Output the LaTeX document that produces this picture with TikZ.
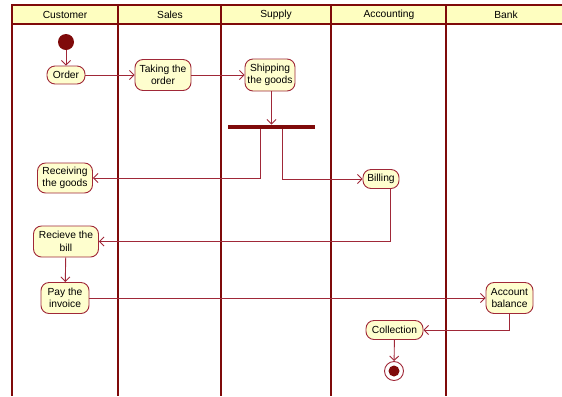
\documentclass[tikz,border=0pt]{standalone}
\usepackage{fontspec}
\setmainfont{Liberation Sans}
\usetikzlibrary{arrows.meta,positioning}
\definecolor{lane}{HTML}{7F0A0A}
\definecolor{edge}{HTML}{A02838}
\definecolor{boxfill}{HTML}{FEFECE}
\definecolor{headfill}{HTML}{FEFEC0}
\tikzset{
  act/.style={draw=edge, fill=boxfill, line width=0.9bp, rounded corners=8bp,
    align=center, inner sep=1bp, font=\fontsize{10.3}{12.5}\selectfont},
  flow/.style={draw=edge, line width=0.9bp,
    -{Straight Barb[length=4.5bp,width=9bp,line width=0.9bp]}},
  lanesep/.style={draw=lane, line width=2.2bp},
  lanehead/.style={font=\fontsize{10.3}{12.5}\selectfont},
}
\begin{document}
\begin{tikzpicture}[x=1bp,y=-1bp]
\useasboundingbox (0,0) rectangle (562,396);
% swimlane header band
\fill[headfill] (12,5) rectangle (562,24);
\draw[lane, line width=1.6bp] (12,5) -- (562,5);
\draw[lane, line width=1.8bp] (12,24) -- (562,24);
\foreach \x in {12,118,221,331,446}
  \draw[lanesep] (\x,4.2) -- (\x,396);
\node[lanehead] (hcust) at (65,15) {Customer};
\node[lanehead] (hsales) at (170,15) {Sales};
\node[lanehead] (hsup) at (276,15) {Supply};
\node[lanehead] (hacc) at (389,15) {Accounting};
\node[lanehead] (hbank) at (506,15) {Bank};

% activities
\node[circle, fill=lane, minimum size=16bp, inner sep=0] (start) at (66,42) {};
\node[act, minimum width=38bp, minimum height=18bp] (order) at (66,75) {Order};
\node[act, minimum width=56bp, minimum height=31bp] (take) at (163,75) {Taking the\\order};
\node[act, minimum width=50bp, minimum height=32bp] (ship) at (270,75) {Shipping\\the goods};
\node[fill=lane, minimum width=87bp, minimum height=4.5bp, inner sep=0] (fork) at (271.5,127) {};
\node[act, minimum width=55bp, minimum height=30bp] (recv) at (65,178) {Receiving\\the goods};
\node[act, minimum width=36bp, minimum height=19bp] (bill) at (381,179) {Billing};
\node[act, minimum width=65bp, minimum height=31bp] (rbill) at (66,241.5) {Recieve the\\bill};
\node[act, minimum width=48bp, minimum height=31bp] (pay) at (65,298) {Pay the\\invoice};
\node[act, minimum width=47bp, minimum height=31bp] (acct) at (509.5,298) {Account\\balance};
\node[act, minimum width=57bp, minimum height=19bp] (coll) at (394.5,330) {Collection};
\node[circle, draw=edge, fill=white, line width=0.9bp, minimum size=19bp, inner sep=0] (stop) at (394,371) {};
\node[circle, fill=lane, minimum size=11bp, inner sep=0] (stopdot) at (stop) {};

% fork outlets
\coordinate (forkL) at ([xshift=-11.5bp]fork.south);
\coordinate (forkR) at ([xshift=10.5bp]fork.south);
\coordinate (billout) at ([xshift=9bp]bill.south);

% control flow
\draw[flow] (start) -- (order);
\draw[flow] (order) -- (take);
\draw[flow] (take) -- (ship);
\draw[flow] (ship.south -| fork) -- (fork.north);
\draw[flow] (forkL) |- (recv.east);
\draw[flow] (forkR) |- (bill.west);
\draw[flow] (billout) |- (rbill.east);
\draw[flow] (rbill) -- (pay);
\draw[flow] (pay.east) -- (pay.east -| acct.west);
\draw[flow] (acct.south) |- (coll.east);
\draw[flow] (coll) -- (stop);
\end{tikzpicture}
\end{document}
